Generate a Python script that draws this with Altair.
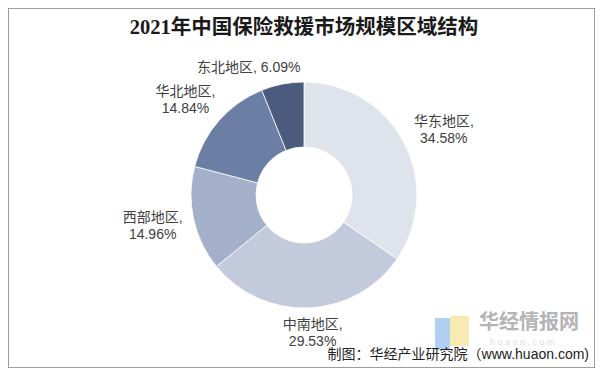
import altair as alt
import pandas as pd

regions = ["华东地区", "中南地区", "西部地区", "华北地区", "东北地区"]
shares = [34.58, 29.53, 14.96, 14.84, 6.09]
colors = ["#dfe3ec", "#c3cadb", "#a4b0c9", "#6b7fa5", "#4b5b7d"]
group_upper = ["华东地区", "华北地区"]
group_west = ["西部地区"]
group_bottom = ["中南地区"]
group_top = ["东北地区"]

title_text = "2021年中国保险救援市场规模区域结构"
source_text = "制图：华经产业研究院（www.huaon.com)"
brand_text = "华经情报网"
brand_sub = "h u a o n . c o m"

df = pd.DataFrame({
    "region": regions,
    "share": shares,
    "order": list(range(len(regions))),
})

W, H = 587, 360
CX, CY = 296, 187

base = alt.Chart(df).encode(
    theta=alt.Theta("share:Q", stack=True),
    order=alt.Order("order:Q", sort="ascending"),
    x=alt.value(CX),
    y=alt.value(CY),
)

arcs = base.mark_arc(outerRadius=113, innerRadius=48, stroke="#ffffff", strokeWidth=0.8).encode(
    color=alt.Color("region:N", scale=alt.Scale(domain=regions, range=colors), legend=None)
)

font_lbl = "Liberation Sans, Noto Sans CJK SC"


def label_layer(group, radius, fmt, dx=0, dy=0):
    arr = "[" + ",".join("'" + g + "'" for g in group) + "]"
    return base.transform_calculate(
        lbl=f"indexof({arr}, datum.region) >= 0 ? " + fmt + " : ''"
    ).mark_text(
        radius=radius, fontSize=14, font=font_lbl, color="#404040",
        align="center", baseline="middle", lineBreak="\n", lineHeight=17,
        dx=dx, dy=dy,
    ).encode(text="lbl:N")


fmt2 = "datum.region + ',\\n' + format(datum.share, '.2f') + '%'"
fmt1 = "datum.region + ', ' + format(datum.share, '.2f') + '%'"

lab_a = label_layer(group_upper, 158, fmt2, dx=0, dy=1)
lab_w = label_layer(group_west, 158, fmt2, dx=3, dy=-11)
lab_b = label_layer(group_bottom, 136, fmt2, dx=3, dy=-6)
lab_c = label_layer(group_top, 138, fmt1, dx=-29, dy=8)

title = alt.Chart(pd.DataFrame({"t": [title_text]})).mark_text(
    font="Liberation Serif, Noto Sans CJK SC", fontWeight="bold", fontSize=20.5,
    color="#1a1a1a", align="center", baseline="middle",
).encode(text="t:N", x=alt.value(296), y=alt.value(20))

logo_blue = alt.Chart(pd.DataFrame({"a": [0]})).mark_rect(color="#a9c9f2", opacity=0.9).encode(
    x=alt.value(427), x2=alt.value(442), y=alt.value(310), y2=alt.value(342)
)
logo_yellow = alt.Chart(pd.DataFrame({"a": [0]})).mark_rect(color="#f7e9a8", opacity=0.9).encode(
    x=alt.value(442), x2=alt.value(461), y=alt.value(308), y2=alt.value(338)
)

brand = alt.Chart(pd.DataFrame({"t": [brand_text]})).mark_text(
    font="Noto Sans CJK SC", fontWeight="bold", fontSize=20, color="#b4b4b4",
    align="left", baseline="middle",
).encode(text="t:N", x=alt.value(471), y=alt.value(315))

brand2 = alt.Chart(pd.DataFrame({"t": [brand_sub]})).mark_text(
    font="Liberation Sans", fontSize=9, color="#dcdcdc",
    align="left", baseline="middle",
).encode(text="t:N", x=alt.value(482), y=alt.value(334))

source = alt.Chart(pd.DataFrame({"t": [source_text]})).mark_text(
    font="Liberation Sans, Noto Sans CJK SC", fontSize=14, color="#222222",
    align="right", baseline="middle",
).encode(text="t:N", x=alt.value(581), y=alt.value(347))

chart = alt.layer(
    arcs, lab_a, lab_w, lab_b, lab_c, title, logo_blue, logo_yellow, brand2, brand, source
).properties(
    width=W, height=H,
    autosize=alt.AutoSizeParams(type="none"),
    padding=0,
).configure_view(stroke="#7f7f7f", strokeWidth=1.5)

chart.save("out.html", embed_options={"renderer": "svg", "actions": False})
